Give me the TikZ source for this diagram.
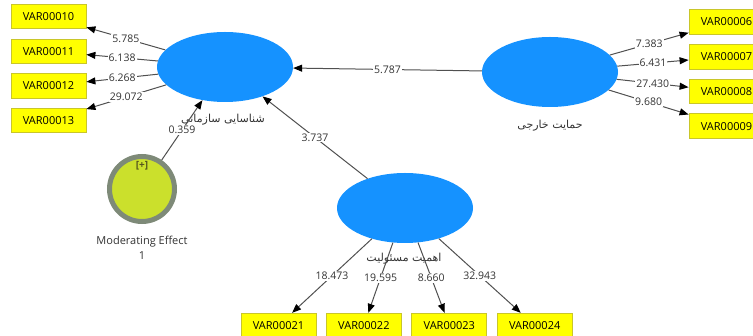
\documentclass[tikz,border=0pt]{standalone}
\usepackage{fontspec}
\setmainfont{Open Sans}
\newfontfamily\farsifont[Script=Arabic]{DejaVu Sans}
\TeXXeTstate=1
\usetikzlibrary{shapes.geometric, arrows.meta, positioning}
\definecolor{latentbg}{HTML}{1592FF}
\definecolor{itembg}{HTML}{FFFF00}
\definecolor{itemline}{HTML}{C9C62A}
\definecolor{modbg}{HTML}{CBE02C}
\definecolor{modline}{HTML}{7E8A78}
\definecolor{modsigncol}{HTML}{55561E}
\definecolor{pathcol}{HTML}{505050}
\definecolor{labelcol}{HTML}{333333}

\begin{document}
\begin{tikzpicture}[
    x=1pt, y=-1pt,
    node distance=9.4pt and 9.6pt,
    % latent constructs
    latent/.style={
        ellipse,
        fill=latentbg,
        minimum width=136pt,
        minimum height=70pt,
        inner sep=0pt
    },
    % indicator boxes
    item/.style={
        rectangle,
        fill=itembg,
        draw=itemline,
        line width=0.8pt,
        minimum width=75pt,
        minimum height=24.5pt,
        inner sep=0pt,
        font=\fontsize{11}{13}\selectfont
    },
    % moderating effect
    modnode/.style={
        circle,
        fill=modbg,
        draw=modline,
        line width=5pt,
        minimum size=65pt,
        inner sep=0pt
    },
    % arrows
    link/.style={
        -{Triangle[length=9pt, width=7pt, color=black]},
        draw=pathcol,
        line width=1pt
    },
    % path weights
    weight/.style={
        fill=white,
        inner sep=1pt,
        text=labelcol,
        font=\fontsize{10.5}{12}\selectfont
    },
    % construct names
    caption/.style={
        text=labelcol,
        font=\farsifont\fontsize{11}{13}\selectfont
    }
]
    \useasboundingbox (0,0) rectangle (753,336);

    % --- 1. constructs ---
    \node[latent] (sas) at (225,67) {};
    \node[latent] (hem) at (550,72) {};
    \node[latent] (ahm) at (405,208) {};
    \node[modnode] (mod) at (142,189) {};

    \node[caption] (sascap) at (223,120) {\beginR شناسایی سازمانی\endR};
    \node[caption] (hemcap) at (550,126) {\beginR حمایت خارجی\endR};
    \node[caption] (ahmcap) at (404,259) {\beginR اهمیت مسئولیت\endR};

    \node[font=\fontsize{10}{11}\selectfont\bfseries, text=modsigncol] (modsign) at (142,166) {[+]};
    \node[align=center, text=labelcol, font=\fontsize{11}{15}\selectfont] (modcap) at (142,248) {Moderating Effect\\1};

    % --- 2. indicators ---
    % left
    \node[item] (v10) at (48.5,16.5) {VAR00010};
    \node[item, below=of v10] (v11) {VAR00011};
    \node[item, below=of v11] (v12) {VAR00012};
    \node[item, below=of v12] (v13) {VAR00013};
    % right
    \node[item] (v06) at (726.5,22) {VAR00006};
    \node[item, below=of v06] (v07) {VAR00007};
    \node[item, below=of v07] (v08) {VAR00008};
    \node[item, below=of v08] (v09) {VAR00009};
    % bottom
    \node[item] (v21) at (278.5,325.5) {VAR00021};
    \node[item, right=of v21] (v22) {VAR00022};
    \node[item, right=of v22] (v23) {VAR00023};
    \node[item, right=of v23] (v24) {VAR00024};

    % --- 3. arrows ---
    \draw[link] (sas) -- node[weight] {5.785} (v10);
    \draw[link] (sas) -- node[weight] {6.138} (v11);
    \draw[link] (sas) -- node[weight] {6.268} (v12);
    \draw[link] (sas) -- node[weight] {29.072} (v13);

    \draw[link] (hem) -- node[weight] {7.383} (v06);
    \draw[link] (hem) -- node[weight] {6.431} (v07);
    \draw[link] (hem) -- node[weight] {27.430} (v08);
    \draw[link] (hem) -- node[weight] {9.680} (v09);

    \draw[link] (ahm) -- node[weight] {18.473} (v21);
    \draw[link] (ahm) -- node[weight] {19.595} (v22);
    \draw[link] (ahm) -- node[weight] {8.660} (v23);
    \draw[link] (ahm) -- node[weight] {32.943} (v24);

    \draw[link] (hem) -- node[weight] {5.787} (sas);
    \draw[link] (ahm) -- node[weight] {3.737} (sas);
    \draw[link] (mod) -- node[weight] {0.359} (sas);

\end{tikzpicture}
\end{document}
